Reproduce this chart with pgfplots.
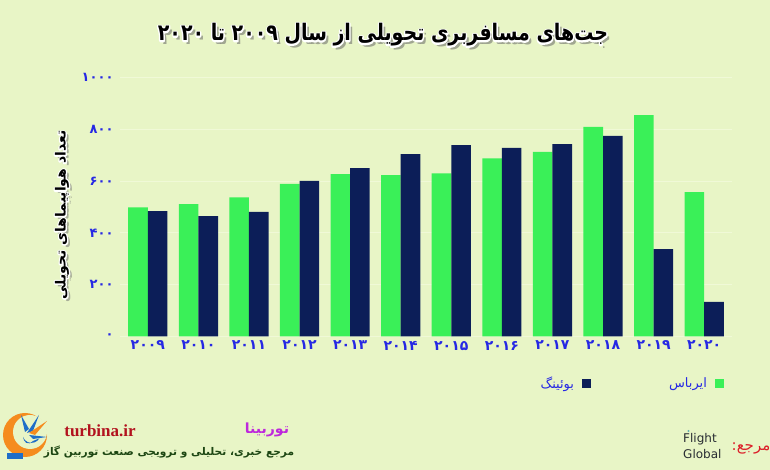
\documentclass[border=0pt]{standalone}
\usepackage{pgfplots}
\pgfplotsset{compat=1.18}
\usepackage{fontspec}
\setmainfont{DejaVu Sans}
\newfontfamily\arabicfont[Script=Arabic]{DejaVu Sans}
\newfontfamily\serifb{Liberation Serif}
\TeXXeTstate=1
\definecolor{bg}{RGB}{232,245,198}
\definecolor{gridc}{RGB}{240,249,215}
\definecolor{abgreen}{RGB}{58,240,88}
\definecolor{navy}{RGB}{12,30,88}
\definecolor{tickblue}{RGB}{38,40,228}
\definecolor{turbred}{RGB}{178,18,30}
\definecolor{turbpurple}{RGB}{190,40,220}
\definecolor{darkgreen}{RGB}{28,70,18}
\definecolor{logoorange}{RGB}{245,140,30}
\definecolor{logoblue}{RGB}{30,110,200}
\definecolor{fggrey}{RGB}{40,44,50}
\definecolor{srcred}{RGB}{220,30,40}

\pgfplotstableread{
x airbus boeing
0 499 484
1 511 465
2 537 481
3 589 601
4 627 650
5 623 704
6 630 739
7 688 728
8 713 743
9 809 775
10 855 337
11 557 134
}\deliveries

\newcommand\outlined[1]{\special{pdf:literal direct 1 1 1 RG 2.6 w 1 j 2 Tr}#1\special{pdf:literal direct 0 Tr}}

\begin{document}
\begin{tikzpicture}[x=1pt,y=1pt]
% background
\fill[bg] (0,0) rectangle (770,470);
\path[use as bounding box] (0,0) rectangle (770,470);

% title: shadow, white outline, black fill
\def\titletext{\arabicfont\bfseries\fontsize{19}{19}\selectfont\beginR جت‌های مسافربری تحویلی از سال ۲۰۰۹ تا ۲۰۲۰\endR}
\node[text=black!60, opacity=0.55, yscale=1.2, transform shape] at (386,431) {\titletext};
\node[text=white, yscale=1.2, transform shape] at (383,435) {\outlined{\titletext}};
\node[text=black, yscale=1.2, transform shape] at (383,435) {\titletext};

% y label: shadow, outline, fill
\def\ylabtext{\arabicfont\bfseries\fontsize{14}{14}\selectfont\beginR تعداد هواپیماهای تحویلی\endR}
\node[rotate=90,text=black!55,opacity=0.55] at (65,252) {\ylabtext};
\node[rotate=90,text=white] at (62,255) {\outlined{\ylabtext}};
\node[rotate=90,text=black] at (62,255) {\ylabtext};

\begin{axis}[
  at={(120pt,133.5pt)}, anchor=south west,
  scale only axis, width=612pt, height=259pt,
  xmin=-0.55, xmax=11.55, ymin=0, ymax=1000,
  axis line style={draw=none},
  major tick length=0pt,
  ymajorgrids, grid style={gridc, line width=0.8pt},
  xtick={0,...,11},
  xticklabels={۲۰۰۹,۲۰۱۰,۲۰۱۱,۲۰۱۲,۲۰۱۳,۲۰۱۴,۲۰۱۵,۲۰۱۶,۲۰۱۷,۲۰۱۸,۲۰۱۹,۲۰۲۰},
  ytick={0,200,400,600,800,1000},
  yticklabels={۰,۲۰۰,۴۰۰,۶۰۰,۸۰۰,۱۰۰۰},
  xticklabel style={font=\arabicfont\bfseries\fontsize{14}{14}\selectfont, text=tickblue, yshift=-1pt},
  yticklabel style={font=\arabicfont\bfseries\fontsize{13}{13}\selectfont, text=tickblue, xshift=-3pt},
  legend image code/.code={\fill[#1] (0pt,-4.5pt) rectangle (9pt,4.5pt);},
  legend style={at={(0.992,-0.18)}, anchor=east, draw=none, fill=none,
    font=\arabicfont\fontsize{13}{13}\selectfont, text=tickblue,
    /tikz/every odd column/.append style={column sep=6pt},
    /tikz/every even column/.append style={column sep=76pt}},
  legend columns=2,
  legend plot pos=right,
]
\addplot[forget plot, ybar, bar width=19.6pt, bar shift=-9.8pt, fill=abgreen, draw=none] table[x=x, y=airbus] {\deliveries};
\addplot[forget plot, ybar, bar width=19.6pt, bar shift=9.8pt, fill=navy, draw=none] table[x=x, y=boeing] {\deliveries};
\addlegendimage{fill=navy, draw=none}
\addlegendimage{fill=abgreen, draw=none}
\legend{\beginR بوئینگ\endR, \beginR ایرباس\endR}
\end{axis}

% footer: logo
\begin{scope}[shift={(25,35)}]
  \fill[logoorange] (0,0) circle (22);
  \fill[bg] (5,3) circle (17);
  \fill[logoblue] (2,2) -- (14,20) -- (8,4) -- cycle;
  \fill[logoorange] (4,2) -- (22,14) -- (10,0) -- cycle;
  \fill[logoblue] (4,0) -- (22,-2) -- (8,-4) -- cycle;
  \fill[logoblue] (0,3) -- (-4,20) -- (4,6) -- cycle;
  \fill[logoblue] (-2,-2) arc (200:330:9) -- (8,-6) arc (330:200:5) -- cycle;
  \fill[logoblue] (-18,-18) rectangle (-2,-24);
\end{scope}

% footer texts
\node[text=turbred, font=\serifb\bfseries\fontsize{17}{17}\selectfont] at (100,39) {turbina.ir};
\node[text=turbpurple, font=\arabicfont\bfseries\fontsize{14}{14}\selectfont] at (267,40) {\beginR توربینا\endR};
\node[text=darkgreen, font=\arabicfont\bfseries\fontsize{10.6}{10.6}\selectfont] at (169,18) {\beginR مرجع خبری، تحلیلی و ترویجی صنعت توربین گاز\endR};

% source
\node[text=srcred, font=\arabicfont\fontsize{15}{15}\selectfont] at (751,22) {\beginR مرجع:\endR};
\node[text=fggrey, font=\fontsize{12}{12}\selectfont, inner sep=0pt, anchor=west] at (683,31) {Flight};
\node[text=fggrey, font=\fontsize{12}{12}\selectfont, inner sep=0pt, anchor=west] at (683,16) {Global};
\fill[teal!60] (688.5,39) circle (1.2);
\end{tikzpicture}
\end{document}
